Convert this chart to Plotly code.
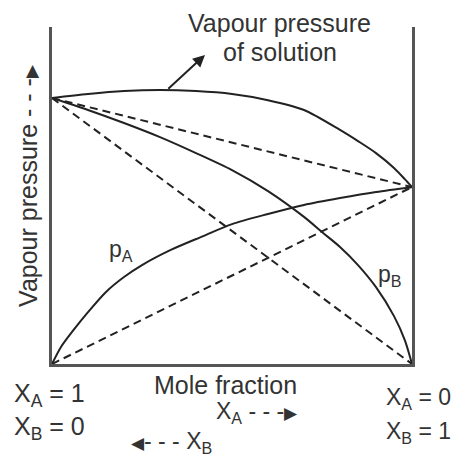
import plotly.graph_objects as go

# mole fraction of B (0 at left, 1 at right)
x_pa = [0, 0.025, 0.06, 0.1, 0.15, 0.2, 0.25, 0.33, 0.42, 0.5, 0.6, 0.7, 0.8, 0.9, 1.0]
p_a = [0, 6.4, 12.8, 19.5, 27.1, 32.7, 37.2, 42.9, 48.1, 52.6, 56.4, 59.8, 62.4, 64.7, 66.5]

x_pb = [0, 0.1, 0.2, 0.3, 0.4, 0.5, 0.6, 0.7, 0.75, 0.8, 0.85, 0.9, 0.95, 0.98, 1.0]
p_b = [100, 95.5, 90.6, 85.3, 79.3, 72.9, 65.0, 55.3, 49.6, 44.0, 37.2, 28.9, 18.0, 9.0, 0]

x_sol = [0, 0.1, 0.2, 0.3, 0.4, 0.5, 0.6, 0.7, 0.8, 0.85, 0.9, 0.95, 0.98, 1.0]
p_sol = [100, 101.5, 102.6, 103, 102.6, 101.5, 99.2, 95.5, 88, 83.8, 79.3, 73.7, 69.5, 66.5]

# ideal (Raoult) straight lines
x_ideal = [0, 1]
ideal_a = [0, 66.5]
ideal_b = [100, 0]
ideal_total = [100, 66.5]

INK = "#222222"
TXT = "#333333"
FONT = "Liberation Sans, Arial, sans-serif"
HEAD = '<span style="font-size:17px">\u25b6</span>'
TAIL = '<span style="font-size:17px">\u25c0</span>'

fig = go.Figure()

for xs, ys in [(x_pa, p_a), (x_pb, p_b), (x_sol, p_sol)]:
    fig.add_trace(go.Scatter(x=xs, y=ys, mode="lines", line=dict(color=INK, width=2, shape="spline", smoothing=0.8), cliponaxis=False))

for ys in [ideal_a, ideal_b, ideal_total]:
    fig.add_trace(go.Scatter(x=x_ideal, y=ys, mode="lines", line=dict(color=INK, width=2, dash="8px,5px"), cliponaxis=False))

ann = []


def label(text, x, y, size=25, xanchor="center", angle=0):
    ann.append(dict(text=text, x=x, y=y, xref="paper", yref="paper", showarrow=False, xanchor=xanchor, yanchor="middle", textangle=angle, font=dict(family=FONT, size=size, color=TXT)))


label("Vapour pressure", 0.633, 1.012)
label("of solution", 0.633, 0.926)
label("p<sub>A</sub>", 0.192, 0.338, size=23)
label("p<sub>B</sub>", 0.939, 0.264, size=23)
label("Vapour pressure - - -" + HEAD, -0.067, 0.531, angle=-90)
label("Mole fraction", 0.483, -0.062)
label("X<sub>A</sub> = 1", -0.111, -0.092, xanchor="left")
label("X<sub>B</sub> = 0", -0.111, -0.19, xanchor="left")
label("X<sub>A</sub> = 0", 1.114, -0.101, size=23, xanchor="right")
label("X<sub>B</sub> = 1", 1.114, -0.202, size=23, xanchor="right")
label("X<sub>A</sub> - - -" + HEAD, 0.57, -0.145, size=23)
label(TAIL + "- - - X<sub>B</sub>", 0.333, -0.234, size=23)

# arrow pointing from the solution curve to its label
ann.append(dict(text="", x=0.425, y=116.2, ax=0.319, ay=103, xref="x", yref="y", axref="x", ayref="y", showarrow=True, arrowhead=2, arrowsize=1.2, arrowwidth=2, arrowcolor=INK))

# page body adds an 8px offset, so the figure is 8px smaller than the window
fig.update_layout(
    width=457, height=450,
    margin=dict(l=44, r=53, t=19, b=94),
    paper_bgcolor="white", plot_bgcolor="white",
    showlegend=False,
    annotations=ann,
    xaxis=dict(range=[0, 1], showgrid=False, zeroline=False, showticklabels=False, ticks="", showline=True, linecolor="#555555", linewidth=2.5),
    yaxis=dict(range=[0, 126.7], showgrid=False, zeroline=False, showticklabels=False, ticks="", showline=True, mirror=True, linecolor="#555555", linewidth=2.5),
)

fig.write_html("out.html")
